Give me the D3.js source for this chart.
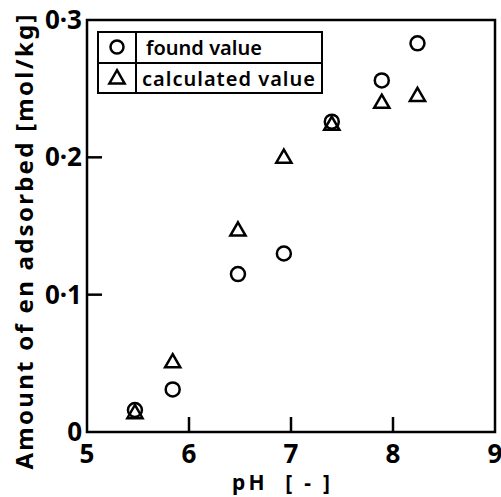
<!DOCTYPE html>
<html>
<head>
<meta charset="utf-8">
<script src="https://cdn.jsdelivr.net/npm/d3@7"></script>
<style>
  body { margin: 0; background: #fff; }
  svg { display: block; font-family: "Noto Sans", sans-serif; }
</style>
</head>
<body>
<svg width="501" height="497"></svg>
<script>
// data
var pH = [5.47, 5.84, 6.48, 6.93, 7.40, 7.89, 8.24];
var found = [0.016, 0.031, 0.115, 0.130, 0.226, 0.256, 0.283];
var calculated = [0.014, 0.051, 0.147, 0.200, 0.224, 0.240, 0.245];
var xTicks = [5, 6, 7, 8, 9];
var yTicks = [0, 0.1, 0.2, 0.3];

var svg = d3.select('svg');
var plotL = 87, plotR = 495, plotT = 20, plotB = 432;

var x = d3.scaleLinear().domain([5, 9]).range([plotL, plotR]);
var y = d3.scaleLinear().domain([0, 0.3]).range([plotB, plotT]);

// frame
svg.append('rect')
  .attr('x', plotL).attr('y', plotT)
  .attr('width', plotR - plotL).attr('height', plotB - plotT)
  .attr('fill', 'none').attr('stroke', '#000').attr('stroke-width', 2.5);

// inside ticks
svg.selectAll('.xt').data(xTicks.slice(1, -1)).enter()
  .append('line')
    .attr('x1', function(d){ return x(d); }).attr('x2', function(d){ return x(d); })
    .attr('y1', plotB).attr('y2', plotB - 15)
    .attr('stroke', '#000').attr('stroke-width', 2.5);
svg.selectAll('.yt').data(yTicks.slice(1, -1)).enter()
  .append('line')
    .attr('x1', plotL).attr('x2', plotL + 15)
    .attr('y1', function(d){ return y(d); }).attr('y2', function(d){ return y(d); })
    .attr('stroke', '#000').attr('stroke-width', 2.5);

// tick labels
svg.selectAll('.xl').data(xTicks).enter()
  .append('text')
    .attr('x', function(d){ return x(d); })
    .attr('y', 463)
    .attr('text-anchor', 'middle')
    .attr('font-size', 26).attr('font-weight', 'bold')
    .text(function(d){ return d; });
svg.selectAll('.yl').data(yTicks).enter()
  .append('text')
    .attr('x', 82)
    .attr('y', function(d){ return y(d) + 9; })
    .attr('text-anchor', 'end')
    .attr('font-size', 26).attr('font-weight', 'bold')
    .text(function(d){ return d === 0 ? '0' : d3.format('.1f')(d).replace('.', '·'); });

// axis titles
svg.append('text')
  .attr('x', 232).attr('y', 490)
  .attr('font-size', 21).attr('font-weight', 'bold')
  .attr('xml:space', 'preserve')
  .attr('textLength', 98)
  .text('pH  [ - ]');
svg.append('text')
  .attr('transform', 'translate(33,242) rotate(-90)')
  .attr('text-anchor', 'middle')
  .attr('font-size', 24).attr('font-weight', 'bold')
  .attr('textLength', 455)
  .text('Amount of en adsorbed [mol/kg]');

// markers
var tri = d3.symbol().type(d3.symbolTriangle).size(100);
svg.selectAll('.calc').data(pH).enter()
  .append('path')
    .attr('d', tri)
    .attr('transform', function(d, i){ return 'translate(' + x(d) + ',' + (y(calculated[i]) + 1) + ')'; })
    .attr('fill', 'none').attr('stroke', '#000').attr('stroke-width', 2.5);
svg.selectAll('.found').data(pH).enter()
  .append('circle')
    .attr('cx', function(d){ return x(d); })
    .attr('cy', function(d, i){ return y(found[i]); })
    .attr('r', 7)
    .attr('fill', 'none').attr('stroke', '#000').attr('stroke-width', 2.5);

// legend table
var lg = svg.append('g');
lg.append('rect')
  .attr('x', 98).attr('y', 32).attr('width', 224).attr('height', 61)
  .attr('fill', 'none').attr('stroke', '#000').attr('stroke-width', 2);
lg.append('line').attr('x1', 98).attr('x2', 322).attr('y1', 63).attr('y2', 63)
  .attr('stroke', '#000').attr('stroke-width', 2);
lg.append('line').attr('x1', 136).attr('x2', 136).attr('y1', 32).attr('y2', 93)
  .attr('stroke', '#000').attr('stroke-width', 2);
lg.append('circle').attr('cx', 117).attr('cy', 47).attr('r', 6.5)
  .attr('fill', 'none').attr('stroke', '#000').attr('stroke-width', 2.5);
lg.append('path').attr('d', tri).attr('transform', 'translate(117,79)')
  .attr('fill', 'none').attr('stroke', '#000').attr('stroke-width', 2.5);
lg.append('text').attr('x', 146).attr('y', 55)
  .attr('font-size', 20).attr('font-weight', 600).attr('textLength', 116)
  .text('found value');
lg.append('text').attr('x', 142).attr('y', 86)
  .attr('font-size', 20).attr('font-weight', 600).attr('textLength', 173)
  .text('calculated value');
</script>
</body>
</html>
